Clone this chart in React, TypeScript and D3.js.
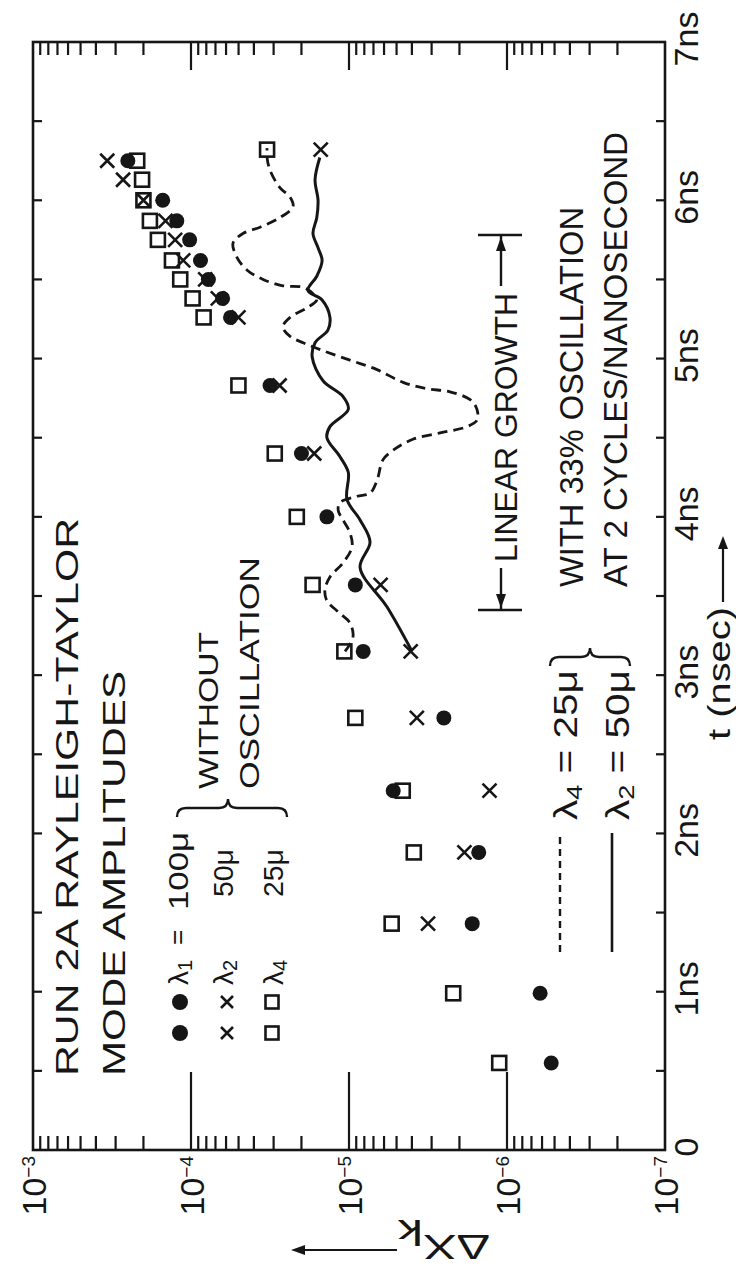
import React from "react";
import * as d3 from "d3";

// axis ticks
const timeTickValues = [0, 1, 2, 3, 4, 5, 6, 7];
const timeTickLabels = ["0", "1ns", "2ns", "3ns", "4ns", "5ns", "6ns", "7ns"];
const decadeValues = [1e-3, 1e-4, 1e-5, 1e-6, 1e-7];
const decadeExponents = ["−3", "−4", "−5", "−6", "−7"];

// without oscillation: lambda1 = 100u (dots), lambda2 = 50u (crosses), lambda4 = 25u (squares)
const lambda1Times = [0.55, 0.99, 1.43, 1.88, 2.27, 2.73, 3.15, 3.57, 4.0, 4.4, 4.83, 5.26, 5.38, 5.5, 5.62, 5.75, 5.87, 6.0, 6.25];
const lambda1Amps = [5.25e-7, 6.17e-7, 1.66e-6, 1.51e-6, 5.25e-6, 2.51e-6, 8.13e-6, 9.12e-6, 1.38e-5, 2.0e-5, 3.16e-5, 5.62e-5, 6.31e-5, 7.76e-5, 8.71e-5, 1.02e-4, 1.23e-4, 1.51e-4, 2.51e-4];

const lambda2Times = [1.43, 1.88, 2.27, 2.73, 3.15, 3.57, 4.4, 4.83, 5.26, 5.38, 5.5, 5.62, 5.75, 5.87, 6.0, 6.13, 6.25];
const lambda2Amps = [3.16e-6, 1.86e-6, 1.29e-6, 3.72e-6, 4.07e-6, 6.31e-6, 1.66e-5, 2.75e-5, 5.01e-5, 6.76e-5, 8.13e-5, 1.12e-4, 1.26e-4, 1.45e-4, 2.0e-4, 2.69e-4, 3.39e-4];

const lambda4Times = [0.55, 0.99, 1.43, 1.88, 2.27, 2.73, 3.15, 3.57, 4.0, 4.4, 4.83, 5.26, 5.38, 5.5, 5.62, 5.75, 5.87, 6.0, 6.13, 6.25];
const lambda4Amps = [1.12e-6, 2.19e-6, 5.37e-6, 3.89e-6, 4.57e-6, 9.12e-6, 1.07e-5, 1.70e-5, 2.14e-5, 2.95e-5, 5.01e-5, 8.32e-5, 9.77e-5, 1.17e-4, 1.32e-4, 1.62e-4, 1.82e-4, 2.0e-4, 2.04e-4, 2.19e-4];

// with 33% oscillation at 2 cycles/ns
const osc4Times = [3.15, 3.24, 3.33, 3.39, 3.47, 3.54, 3.62, 3.71, 3.81, 3.9, 3.98, 4.04, 4.09, 4.13, 4.15, 4.23, 4.36, 4.42, 4.49, 4.53, 4.57, 4.61, 4.68, 4.74, 4.79, 4.81, 4.85, 4.93, 4.99, 5.05, 5.1, 5.14, 5.2, 5.26, 5.32, 5.37, 5.41, 5.45, 5.46, 5.5, 5.56, 5.64, 5.73, 5.79, 5.83, 5.89, 5.96, 6.02, 6.08, 6.19, 6.27, 6.33];
const osc4Amps = [1.06e-5, 9.44e-6, 9.86e-6, 1.14e-5, 1.38e-5, 1.42e-5, 1.32e-5, 1.09e-5, 9.57e-6, 9.86e-6, 1.09e-5, 1.17e-5, 1.14e-5, 8.89e-6, 7.36e-6, 6.65e-6, 6.10e-6, 5.27e-6, 3.94e-6, 2.65e-6, 1.79e-6, 1.55e-6, 1.55e-6, 1.71e-6, 2.30e-6, 3.21e-6, 4.55e-6, 6.65e-6, 9.86e-6, 1.46e-5, 1.95e-5, 2.36e-5, 2.62e-5, 2.36e-5, 1.85e-5, 1.60e-5, 1.69e-5, 1.95e-5, 2.62e-5, 3.50e-5, 4.43e-5, 5.12e-5, 5.42e-5, 4.69e-5, 3.66e-5, 2.74e-5, 2.26e-5, 2.36e-5, 2.74e-5, 3.16e-5, 3.30e-5, 3.30e-5];

const osc2Times = [3.15, 3.43, 3.68, 3.84, 3.98, 4.11, 4.28, 4.38, 4.5, 4.57, 4.68, 4.76, 4.86, 5.01, 5.1, 5.18, 5.26, 5.37, 5.43, 5.52, 5.62, 5.7, 5.79, 5.89, 6.0, 6.13, 6.27];
const osc2Amps = [3.99e-6, 5.74e-6, 8.51e-6, 7.36e-6, 8.51e-6, 1.03e-5, 1.01e-5, 1.14e-5, 1.38e-5, 1.32e-5, 1.01e-5, 1.09e-5, 1.46e-5, 1.71e-5, 1.64e-5, 1.36e-5, 1.32e-5, 1.48e-5, 1.82e-5, 1.60e-5, 1.48e-5, 1.57e-5, 1.69e-5, 1.60e-5, 1.57e-5, 1.64e-5, 1.53e-5];

const oscEndTime = 6.32;
const osc4EndAmp = 3.3e-5;
const osc2EndAmp = 1.51e-5;

const W = 1108; // time axis length (drawn upward on the page)
const H = 632; // log axis length
const INK = "#161616";
const FONT = "'Liberation Sans', Arial, sans-serif";

const Dot = ({ cx, cy, r = 7.5 }) => <circle cx={cx} cy={cy} r={r} fill={INK} />;
const Cross = ({ cx, cy, s = 7 }) => (
  <path d={`M${cx - s},${cy - s}L${cx + s},${cy + s}M${cx - s},${cy + s}L${cx + s},${cy - s}`} stroke={INK} strokeWidth={2.6} fill="none" />
);
const Box = ({ cx, cy, s = 7 }) => (
  <rect x={cx - s} y={cy - s} width={2 * s} height={2 * s} stroke={INK} strokeWidth={2.6} fill="none" />
);

// stretched lettering, like the stencil text of the original
const Label = ({ x, y, size, len, children }) => (
  <text x={x} y={y} fontSize={size} textLength={len} lengthAdjust="spacingAndGlyphs">
    {children}
  </text>
);

// curly brace along v, tip pointing toward +u
function brace(uEnd, v0, v1, vc, q) {
  const um = uEnd + q;
  const ut = um + q;
  return `M${uEnd},${v0} Q${um},${v0} ${um},${v0 + q} L${um},${vc - q} Q${um},${vc} ${ut},${vc} Q${um},${vc} ${um},${vc + q} L${um},${v1 - q} Q${um},${v1} ${uEnd},${v1}`;
}

function App() {
  const x = d3.scaleLinear().domain([0, 7]).range([0, W]);
  const y = d3.scaleLog().domain([1e-7, 1e-3]).range([H, 0]);

  const line = d3
    .line()
    .x(d => x(d[0]))
    .y(d => y(d[1]))
    .curve(d3.curveCatmullRom.alpha(0.5));

  const pairs = (ts, as) => ts.map((t, i) => [t, as[i]]);

  const halfTicks = d3.range(0.5, 7, 0.5);
  const logTicks = y.ticks().filter(d => d > 1.01e-7 && d < 0.99e-3);
  const isDecade = d => Math.abs(Math.log10(d) - Math.round(Math.log10(d))) < 1e-6;

  return (
    <svg width={736} height={1272} style={{ position: "absolute", left: 0, top: 0, background: "#fff" }} fontFamily={FONT}>
      {/* the whole chart is turned a quarter turn counter-clockwise */}
      <g transform="translate(33,1150) rotate(-90)" fill={INK}>
        <rect x={0} y={0} width={W} height={H} fill="none" stroke={INK} strokeWidth={2.6} />

        {/* time ticks */}
        {halfTicks.map(t => (
          <g key={"t" + t} stroke={INK} strokeWidth={2.2}>
            <line x1={x(t)} x2={x(t)} y1={0} y2={9} />
            <line x1={x(t)} x2={x(t)} y1={H} y2={H - 9} />
          </g>
        ))}

        {/* log ticks */}
        {logTicks.map(d => (
          <g key={"l" + d} stroke={INK} strokeWidth={2.2}>
            <line x1={0} x2={isDecade(d) ? 78 : 14} y1={y(d)} y2={y(d)} />
            <line x1={W} x2={W - (isDecade(d) ? 28 : 13)} y1={y(d)} y2={y(d)} />
          </g>
        ))}

        {timeTickValues.map((t, i) => (
          <text key={"tl" + t} x={x(t) + 3} y={H + 33} fontSize={34} textAnchor="middle">
            {timeTickLabels[i]}
          </text>
        ))}

        {decadeValues.map((d, i) => (
          <text key={"dl" + d} x={-6} y={y(d) + 13} fontSize={34} textAnchor="end">
            10
            <tspan fontSize={19} dy={-11}>
              {decadeExponents[i]}
            </tspan>
          </text>
        ))}

        {/* axis titles */}
        <Label x={410} y={697} size={31} len={133}>
          t (nsec)
        </Label>
        <line x1={548} x2={606} y1={690} y2={690} stroke={INK} strokeWidth={2.2} />
        <path d="M614,690 L601,685 L601,695 Z" />

        <text transform="translate(-85,457) rotate(-90)" fontSize={35} textLength={92} lengthAdjust="spacingAndGlyphs">
          ΔX
          <tspan dy={15}>k</tspan>
        </text>
        <line x1={-100} x2={-100} y1={364} y2={268} stroke={INK} strokeWidth={2.2} />
        <path d="M-100,258 L-105,272 L-95,272 Z" />

        {/* title */}
        <Label x={74} y={45} size={32} len={558}>
          RUN 2A RAYLEIGH-TAYLOR
        </Label>
        <Label x={74} y={92} size={32} len={405}>
          MODE AMPLITUDES
        </Label>

        {/* legend: without oscillation */}
        <Dot cx={117} cy={147} r={8} />
        <Dot cx={148} cy={147} r={8} />
        <Cross cx={117} cy={194} s={6} />
        <Cross cx={148} cy={194} s={6} />
        <Box cx={117} cy={239} s={6.5} />
        <Box cx={148} cy={239} s={6.5} />
        <text x={165} y={155} fontSize={28}>
          λ<tspan fontSize={20} dy={4}>1</tspan>
        </text>
        <text x={205} y={153} fontSize={26}>=</text>
        <Label x={240} y={155} size={28} len={78}>100μ</Label>
        <text x={165} y={200} fontSize={28}>
          λ<tspan fontSize={20} dy={4}>2</tspan>
        </text>
        <Label x={253} y={200} size={28} len={48}>50μ</Label>
        <text x={165} y={250} fontSize={28}>
          λ<tspan fontSize={20} dy={4}>4</tspan>
        </text>
        <Label x={253} y={250} size={28} len={48}>25μ</Label>
        <path d={brace(333, 144, 254, 195, 9)} fill="none" stroke={INK} strokeWidth={2.4} />
        <Label x={361} y={185} size={28} len={157}>WITHOUT</Label>
        <Label x={361} y={226} size={28} len={232}>OSCILLATION</Label>

        {/* legend: with oscillation */}
        <line x1={198} x2={317} y1={527} y2={527} stroke={INK} strokeWidth={2.4} strokeDasharray="7,5" />
        <line x1={198} x2={317} y1={579} y2={579} stroke={INK} strokeWidth={2.6} />
        <text x={330} y={544} fontSize={33} textLength={150} lengthAdjust="spacingAndGlyphs">
          λ<tspan fontSize={22} dy={5}>4</tspan>
          <tspan dy={-5}> = 25μ</tspan>
        </text>
        <text x={330} y={596} fontSize={33} textLength={150} lengthAdjust="spacingAndGlyphs">
          λ<tspan fontSize={22} dy={5}>2</tspan>
          <tspan dy={-5}> = 50μ</tspan>
        </text>
        <path d={brace(484, 517, 597, 557, 9)} fill="none" stroke={INK} strokeWidth={2.4} />
        <Label x={563} y={550} size={33} len={380}>WITH 33% OSCILLATION</Label>
        <Label x={563} y={594} size={33} len={455}>AT 2 CYCLES/NANOSECOND</Label>

        {/* linear growth range */}
        <g stroke={INK} strokeWidth={2.4}>
          <line x1={540} x2={540} y1={445} y2={489} />
          <line x1={915} x2={915} y1={445} y2={489} />
          <line x1={541} x2={582} y1={468} y2={468} />
          <line x1={864} x2={914} y1={468} y2={468} />
        </g>
        <path d="M542,468 L556,463 L556,473 Z" />
        <path d="M913,468 L899,463 L899,473 Z" />
        <Label x={588} y={484} size={32} len={269}>LINEAR GROWTH</Label>

        {/* oscillation curves */}
        <path d={line(pairs(osc4Times, osc4Amps))} fill="none" stroke={INK} strokeWidth={2.8} strokeDasharray="10,6" />
        <path d={line(pairs(osc2Times, osc2Amps))} fill="none" stroke={INK} strokeWidth={3} />
        <Box cx={x(oscEndTime)} cy={y(osc4EndAmp)} />
        <Cross cx={x(oscEndTime)} cy={y(osc2EndAmp)} />

        {/* scatter points */}
        {lambda4Times.map((t, i) => (
          <Box key={"b" + i} cx={x(t)} cy={y(lambda4Amps[i])} />
        ))}
        {lambda2Times.map((t, i) => (
          <Cross key={"c" + i} cx={x(t)} cy={y(lambda2Amps[i])} />
        ))}
        {lambda1Times.map((t, i) => (
          <Dot key={"d" + i} cx={x(t)} cy={y(lambda1Amps[i])} />
        ))}
      </g>
    </svg>
  );
}

export default App;
